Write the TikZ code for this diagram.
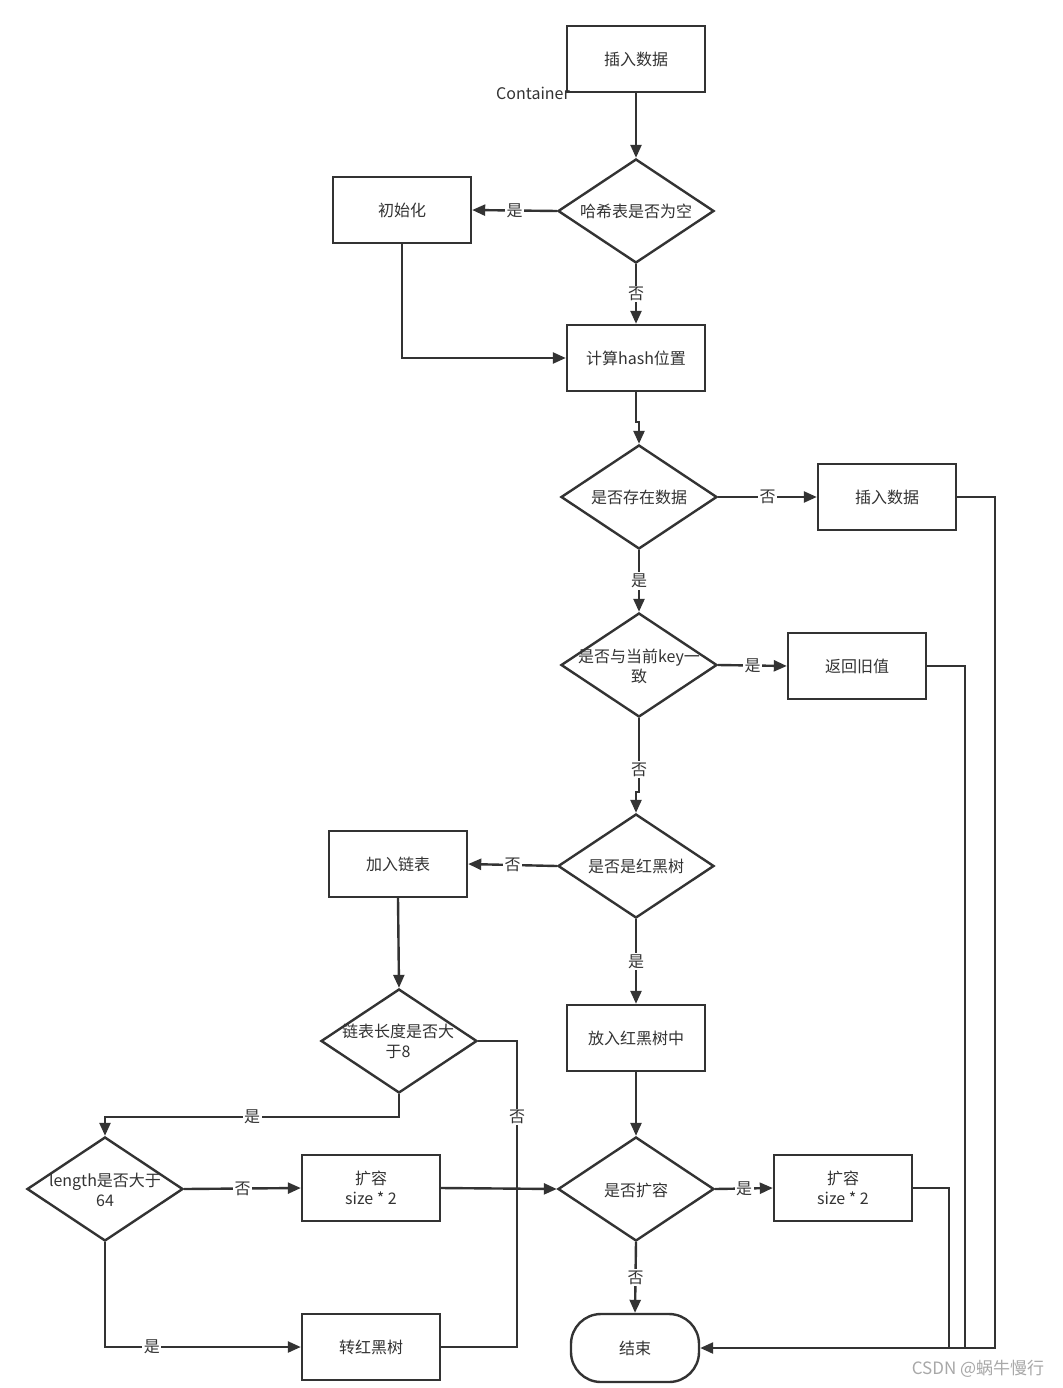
\documentclass[tikz,border=0pt]{standalone}
\usepackage{fontspec}
\setmainfont{Noto Sans CJK SC}
\usetikzlibrary{shapes.geometric,arrows.meta}
\definecolor{ln}{HTML}{333333}
\definecolor{tx}{HTML}{333333}
\definecolor{wm}{HTML}{A8A8A8}
\tikzset{
  fnt/.style={font=\fontsize{16}{20}\selectfont},
  box/.style={draw=ln, line width=2.4pt, minimum width=138pt, minimum height=66pt, inner sep=0pt, fnt, align=center, text=tx},
  endbox/.style={draw=ln, line width=2.4pt, rounded corners=30pt, minimum width=128pt, minimum height=68pt, inner sep=0pt, fnt, text=tx},
  dia/.style={draw=ln, line width=2.4pt, diamond, minimum width=156pt, minimum height=104pt, inner sep=0pt},
  dtxt/.style={fnt, align=center, text=tx, inner sep=0pt},
  lbl/.style={fill=white, fnt, inner sep=1.5pt, text=tx},
  conn/.style={draw=ln, line width=2.4pt, -{Triangle[length=13pt,width=11pt]}},
  wire/.style={draw=ln, line width=2.4pt}
}
\begin{document}
\begin{tikzpicture}[x=1pt,y=-1pt]
\fill[white] (0,0) rectangle (1062,1388);
\useasboundingbox (0,0) rectangle (1062,1388);

% Container text (behind box)
\node[fnt, text=tx, inner sep=0pt] (cont) at (533,93) {Container};

% nodes
\node[box, fill=white, fill opacity=0, text opacity=1] (ins1) at (636,59) {插入数据};
\node[dia] (d1) at (636,211) {};
\node[dtxt] (d1t) at (636,211) {哈希表是否为空};
\node[box] (init) at (402,210) {初始化};
\node[box] (calc) at (636,358) {计算hash位置};
\node[dia] (d2) at (639,497) {};
\node[dtxt] (d2t) at (639,497) {是否存在数据};
\node[box] (ins2) at (887,497) {插入数据};
\node[dia] (d3) at (639,665) {};
\node[dtxt] (d3t) at (639,666) {是否与当前key一\\致};
\node[box] (ret) at (857,666) {返回旧值};
\node[dia] (d4) at (636,866) {};
\node[dtxt] (d4t) at (636,866) {是否是红黑树};
\node[box] (link) at (398,864) {加入链表};
\node[box] (rbput) at (636,1038) {放入红黑树中};
\node[dia] (d5) at (399,1041) {};
\node[dtxt] (d5t) at (398,1041) {链表长度是否大\\于8};
\node[dia] (d6) at (105,1189) {};
\node[dtxt] (d6t) at (105,1190) {length是否大于\\64};
\node[box] (exp1) at (371,1188) {扩容\\size * 2};
\node[dia] (d7) at (636,1189) {};
\node[dtxt] (d7t) at (636,1190) {是否扩容};
\node[box] (exp2) at (843,1188) {扩容\\size * 2};
\node[box] (tored) at (371,1347) {转红黑树};
\node[endbox] (end) at (635,1348) {结束};

\node[font=\fontsize{17}{20}\selectfont, text=wm, inner sep=0pt] (wmk) at (978,1369) {CSDN @蜗牛慢行};

% connectors
\draw[conn] (ins1.south) -- (d1.north);
\draw[conn] (d1.west) -- node[lbl]{是} (init.east);
\draw[conn] (d1.south) -- node[lbl]{否} (calc.north);
\draw[conn] (init.south) |- (calc.west);
\draw[conn] (calc.south) |- (639,422) -- (d2.north);
\draw[conn] (d2.east) -- node[lbl]{否} (ins2.west);
\draw[conn] (d2.south) -- node[lbl]{是} (d3.north);
\draw[conn] (d3.east) -- node[lbl]{是} (ret.west);
\draw[conn] (d3.south) -- node[lbl, pos=0.7]{否} (639,792) -- (636,792) -- (d4.north);
\draw[conn] (d4.west) -- node[lbl]{否} (link.east);
\draw[conn] (d4.south) -- node[lbl]{是} (rbput.north);
\draw[conn] (link.south) -- (d5.north);
\draw[conn] (d5.south) -- (399,1117) -- node[lbl]{是} (105,1117) -- (d6.north);
\draw[conn] (d6.east) -- node[lbl]{否} (exp1.west);
\draw[conn] (d6.south) |- node[lbl, pos=0.62]{是} (tored.west);
\draw[conn] (exp1.east) -- (d7.west);
\draw[wire] (d5.east) -| node[lbl, pos=0.757]{否} (517,1189);
\draw[wire] (tored.east) -| (517,1189);
\draw[conn] (rbput.south) -- (d7.north);
\draw[conn] (d7.east) -- node[lbl]{是} (exp2.west);
\draw[conn] (d7.south) -- node[lbl]{否} (end.north);
\draw[conn] (ins2.east) -| (995,1348) -- (end.east);
\draw[wire] (ret.east) -| (965,1348);
\draw[wire] (exp2.east) -| (949,1348);
\end{tikzpicture}
\end{document}
